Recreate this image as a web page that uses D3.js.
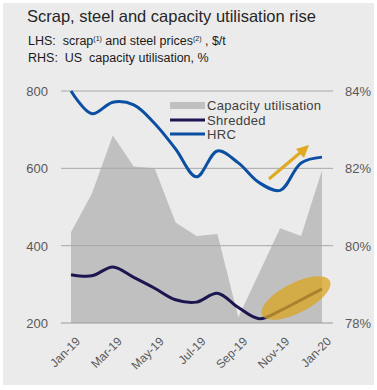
<!DOCTYPE html>
<html>
<head>
<meta charset="utf-8">
<script src="https://cdn.jsdelivr.net/npm/d3@7"></script>
<style>
  body { margin: 0; background: #fff; }
  text { font-family: "Liberation Sans", Arial, sans-serif; white-space: pre; }
</style>
</head>
<body>
<script>
var width = 377,
    height = 390;

// data
var months = ["Jan-19","Feb-19","Mar-19","Apr-19","May-19","Jun-19","Jul-19","Aug-19","Sep-19","Oct-19","Nov-19","Dec-19","Jan-20"];
var tickMonths = ["Jan-19","Mar-19","May-19","Jul-19","Sep-19","Nov-19","Jan-20"];
var capacity = [80.35, 81.35, 82.85, 82.05, 82.0, 80.6, 80.25, 80.3, 78.15, 79.3, 80.45, 80.25, 81.95];
var shredded = [325, 322, 345, 318, 290, 260, 254, 277, 240, 211, 232, 260, 288];
var hrc = [800, 741, 771, 764, 716, 650, 578, 645, 614, 563, 543, 614, 629];
var leftTicks = [200, 400, 600, 800];
var rightTicks = [78, 80, 82, 84];

var svg = d3.select("body").append("svg")
    .attr("width", width)
    .attr("height", height);

// panel
svg.append("rect")
    .attr("x", 3).attr("y", 3)
    .attr("width", 371).attr("height", 382)
    .attr("fill", "#ebebeb");

var x = d3.scalePoint().domain(months).range([71, 322]);
var yL = d3.scaleLinear().domain([200, 800]).range([323, 91]);
var yR = d3.scaleLinear().domain([78, 84]).range([323, 91]);

// capacity area
var area = d3.area()
    .x(function(d, i){ return x(months[i]); })
    .y0(yR(78))
    .y1(function(d){ return yR(d); });

svg.append("path")
    .datum(capacity)
    .attr("d", area)
    .attr("fill", "#c0c0c0");

// gridlines
svg.selectAll("line.grid").data(leftTicks).enter()
  .append("line")
    .attr("class", "grid")
    .attr("x1", 61).attr("x2", 333)
    .attr("y1", function(d){ return yL(d); })
    .attr("y2", function(d){ return yL(d); })
    .style("stroke", function(d){ return d == 200 ? "#9a9a9a" : "#a8a8a8"; })
    .style("stroke-width", 1);

// left axis labels
svg.selectAll("text.yl").data(leftTicks).enter()
  .append("text")
    .attr("x", 48)
    .attr("y", function(d){ return yL(d) + 5; })
    .attr("text-anchor", "end")
    .style("font-size", "13px")
    .style("fill", "#595959")
    .text(function(d){ return d; });

// right axis labels
svg.selectAll("text.yr").data(rightTicks).enter()
  .append("text")
    .attr("x", 345)
    .attr("y", function(d){ return yR(d) + 5; })
    .style("font-size", "13px")
    .style("fill", "#595959")
    .text(function(d){ return d + "%"; });

// x labels
svg.selectAll("text.xl").data(tickMonths).enter()
  .append("text")
    .attr("transform", function(d){ return "translate(" + (x(d) + 7) + ",339) rotate(-45)"; })
    .attr("text-anchor", "end")
    .attr("dy", "0.35em")
    .style("font-size", "12px")
    .style("fill", "#595959")
    .text(function(d){ return d; });

var line = function() {
  return d3.line()
    .x(function(d, i){ return x(months[i]); })
    .y(function(d){ return yL(d); })
    .curve(d3.curveCatmullRom.alpha(0.5));
};

// shredded
svg.append("path")
    .datum(shredded)
    .attr("d", line())
    .attr("fill", "none")
    .attr("stroke", "#1c1650")
    .attr("stroke-width", 3);

// HRC
svg.append("path")
    .datum(hrc)
    .attr("d", line())
    .attr("fill", "none")
    .attr("stroke", "#0b4fa2")
    .attr("stroke-width", 3);

// highlight ellipse
svg.append("ellipse")
    .attr("cx", 296).attr("cy", 298)
    .attr("rx", 38).attr("ry", 15)
    .attr("transform", "rotate(-27,296,298)")
    .attr("fill", "#d9a520")
    .attr("opacity", 0.75);

// arrow
svg.append("line")
    .attr("x1", 269).attr("y1", 179)
    .attr("x2", 301).attr("y2", 152)
    .attr("stroke", "#e0aa20")
    .attr("stroke-width", 3);
svg.append("path")
    .attr("d", "M309,145 L296,149 L304,158 Z")
    .attr("fill", "#e0aa20");

// legend
var legend = svg.append("g");
legend.append("rect")
    .attr("x", 170).attr("y", 102)
    .attr("width", 35).attr("height", 7)
    .attr("fill", "#c0c0c0");
legend.append("line")
    .attr("x1", 170).attr("x2", 205)
    .attr("y1", 120).attr("y2", 120)
    .attr("stroke", "#1c1650").attr("stroke-width", 3);
legend.append("line")
    .attr("x1", 170).attr("x2", 205)
    .attr("y1", 134).attr("y2", 134)
    .attr("stroke", "#0b4fa2").attr("stroke-width", 3);
var legendText = ["Capacity utilisation", "Shredded", "HRC"];
legend.selectAll("text").data(legendText).enter()
  .append("text")
    .attr("x", 207)
    .attr("y", function(d, i){ return 110 + i * 14.5; })
    .style("font-size", "13px")
    .style("letter-spacing", "0.3px")
    .style("fill", "#404040")
    .text(function(d){ return d; });

// titles
svg.append("text")
    .attr("x", 27).attr("y", 22)
    .style("font-size", "16.5px")
    .style("fill", "#262626")
    .text("Scrap, steel and capacity utilisation rise");

var sub1 = svg.append("text")
    .attr("x", 28).attr("y", 45)
    .style("font-size", "12.5px")
    .style("fill", "#1a1a1a");
sub1.append("tspan").text("LHS:  scrap");
sub1.append("tspan").attr("dy", -4).style("font-size", "7px").text("(1)");
sub1.append("tspan").attr("dy", 4).text(" and steel prices");
sub1.append("tspan").attr("dy", -4).style("font-size", "7px").text("(2)");
sub1.append("tspan").attr("dy", 4).text(" , $/t");

svg.append("text")
    .attr("x", 28).attr("y", 62)
    .style("font-size", "12.5px")
    .style("fill", "#1a1a1a")
    .text("RHS:  US  capacity utilisation, %");
</script>
</body>
</html>
